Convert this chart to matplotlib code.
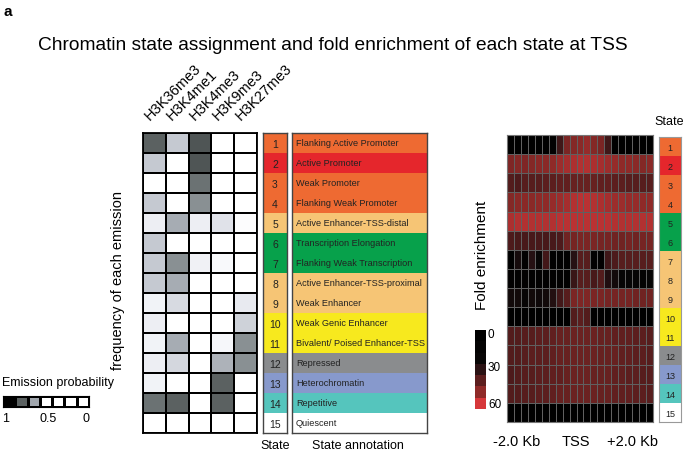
import matplotlib
matplotlib.use("Agg")
import matplotlib.pyplot as plt
import numpy as np
from matplotlib.colors import LinearSegmentedColormap, ListedColormap

plt.rcParams['font.family'] = ['Liberation Sans', 'DejaVu Sans']

# ---------------- data ----------------
marks = ["H3K36me3", "H3K4me1", "H3K4me3", "H3K9me3", "H3K27me3"]
state_ids = [str(i) for i in range(1, 16)]
state_names = ["Flanking Active Promoter", "Active Promoter", "Weak Promoter",
               "Flanking Weak Promoter", "Active Enhancer-TSS-distal",
               "Transcription Elongation", "Flanking Weak Transcription",
               "Active Enhancer-TSS-proximal", "Weak Enhancer", "Weak Genic Enhancer",
               "Bivalent/ Poised Enhancer-TSS", "Repressed", "Heterochromatin",
               "Repetitive", "Quiescent"]
state_colors = ["#ee6a32", "#e5262c", "#ee6a32", "#ee6a32", "#f6c575", "#07a14b",
                "#07a14b", "#f6c575", "#f6c575", "#f7e91e", "#f7e91e", "#8a8c8e",
                "#8799cc", "#55c5bd", "#ffffff"]
right_state_colors = ["#ee6a32", "#e5262c", "#ee6a32", "#ee6a32", "#07a14b", "#07a14b",
                      "#f6c575", "#f6c575", "#f6c575", "#f7e91e", "#f7e91e", "#8a8c8e",
                      "#8799cc", "#55c5bd", "#ffffff"]

emission = [
    [0.85, 0.50, 0.87, 0.00, 0.00],
    [0.50, 0.00, 0.87, 0.00, 0.00],
    [0.00, 0.00, 0.80, 0.00, 0.00],
    [0.50, 0.00, 0.70, 0.00, 0.00],
    [0.25, 0.60, 0.25, 0.35, 0.05],
    [0.50, 0.00, 0.00, 0.00, 0.00],
    [0.50, 0.70, 0.22, 0.12, 0.00],
    [0.50, 0.60, 0.00, 0.00, 0.00],
    [0.20, 0.40, 0.00, 0.00, 0.30],
    [0.25, 0.00, 0.00, 0.00, 0.45],
    [0.20, 0.60, 0.00, 0.15, 0.70],
    [0.25, 0.42, 0.00, 0.58, 0.70],
    [0.20, 0.00, 0.00, 0.85, 0.00],
    [0.80, 0.85, 0.00, 0.85, 0.00],
    [0.00, 0.00, 0.00, 0.00, 0.00],
]
emission_legend = [1.0, 0.85, 0.62, 0.0, 0.0, 0.0, 0.0]
emission_legend_labels = ["1", "0.5", "0"]

fold = [
    [0, 0, 0, 0, 0, 0, 8, 34, 46, 48, 49, 51, 48, 46, 34, 0, 0, 0, 0, 0, 0],
    [47, 48, 47, 48, 49, 49, 50, 52, 53, 54, 55, 55, 54, 53, 52, 51, 50, 50, 49, 48, 49],
    [38, 37, 39, 39, 39, 40, 40, 41, 41, 42, 42, 42, 42, 41, 41, 40, 40, 39, 39, 39, 39],
    [48, 49, 49, 49, 50, 50, 51, 52, 53, 55, 56, 56, 55, 54, 53, 52, 52, 51, 51, 50, 50],
    [54, 55, 55, 55, 55, 55, 55, 56, 56, 56, 56, 56, 56, 56, 56, 55, 55, 55, 55, 55, 55],
    [37, 36, 36, 36, 36, 36, 36, 37, 44, 45, 46, 46, 46, 45, 45, 44, 44, 45, 44, 45, 45],
    [0, 24, 5, 29, 20, 35, 5, 5, 5, 29, 39, 39, 5, 5, 34, 37, 39, 39, 39, 39, 39],
    [5, 5, 5, 5, 5, 5, 5, 5, 5, 33, 39, 39, 36, 38, 27, 23, 15, 15, 15, 10, 15],
    [23, 23, 18, 23, 22, 23, 28, 35, 39, 46, 47, 47, 46, 46, 45, 45, 45, 45, 44, 44, 44],
    [0, 0, 0, 0, 0, 0, 0, 0, 0, 38, 40, 38, 0, 0, 0, 0, 0, 0, 0, 0, 0],
    [38, 38, 39, 39, 40, 40, 41, 42, 42, 43, 43, 43, 43, 42, 42, 41, 41, 41, 40, 40, 39],
    [38, 38, 39, 40, 40, 40, 41, 42, 42, 43, 43, 43, 43, 42, 42, 42, 41, 41, 40, 40, 39],
    [37, 38, 39, 39, 40, 40, 41, 41, 42, 43, 43, 43, 42, 42, 42, 41, 41, 40, 40, 39, 39],
    [38, 38, 39, 39, 40, 40, 41, 42, 42, 43, 43, 43, 43, 42, 42, 41, 41, 41, 40, 40, 39],
    [0] * 21,
]
fold_cbar_values = [0, 10, 20, 30, 40, 50, 60]
fold_cbar_labels = ["0", "30", "60"]
fold_xtick_pos = [1.45, 9.9, 18.0]
fold_xtick_labels = ["-2.0 Kb", "TSS", "+2.0 Kb"]

# ---------------- figure ----------------
W, H = 685, 454
fig = plt.figure(figsize=(W / 100, H / 100), dpi=100)


def ax_px(x0, y0, x1, y1):
    return fig.add_axes([x0 / W, 1 - y1 / H, (x1 - x0) / W, (y1 - y0) / H])


def fx(x):
    return x / W


def fy(y):
    return 1 - y / H


gray_cmap = LinearSegmentedColormap.from_list(
    "emis", [(0.0, "#ffffff"), (0.15, "#f6f7fa"), (0.3, "#e8eaf0"), (0.5, "#c6cad2"),
             (0.62, "#a0a6ad"), (0.72, "#848b8d"), (0.85, "#5c6262"), (1.0, "#000000")])
fold_cmap = LinearSegmentedColormap.from_list(
    "fold", [(0.0, "#000000"), (20 / 60, "#080606"), (30 / 60, "#2a1214"),
             (40 / 60, "#5c1e1e"), (50 / 60, "#8e2a28"), (1.0, "#d6373a")])

fig.text(fx(4), fy(12), "a", fontsize=11, fontweight="bold", ha="left", va="center")
fig.text(fx(333), fy(45), "Chromatin state assignment and fold enrichment of each state at TSS",
         fontsize=13.8, ha="center", va="center")

# emission heatmap
ax = ax_px(143, 133, 257, 433)
em = np.array(emission)
ax.pcolormesh(em, cmap=gray_cmap, vmin=0, vmax=1, edgecolors="black", linewidth=1.3)
ax.set_xlim(0, em.shape[1])
ax.set_ylim(em.shape[0], 0)
ax.set_xticks([])
ax.set_yticks([])
for s in ax.spines.values():
    s.set_linewidth(1.3)
colw = (257 - 143) / len(marks)
for i, m in enumerate(marks):
    cx = 143 + colw * (i + 0.5)
    fig.text(fx(cx - 3), fy(123), m, fontsize=10.5, rotation=45, rotation_mode="anchor",
             ha="left", va="bottom")
fig.text(fx(118), fy(280), "frequency of each emission", fontsize=10.5, rotation=90,
         ha="center", va="center")

# state number column
sc = ListedColormap(state_colors)
idx = np.arange(15).reshape(-1, 1)
ax2 = ax_px(263, 133, 287, 433)
ax2.pcolormesh(idx, cmap=sc, vmin=-0.5, vmax=14.5)
ax2.set_xlim(0, 1)
ax2.set_ylim(15, 0)
ax2.set_xticks([])
ax2.set_yticks([])
for s in ax2.spines.values():
    s.set_color("#444444")
    s.set_linewidth(1.0)
for i, t in enumerate(state_ids):
    ax2.text(0.5, i + 0.6, t, fontsize=7.5, ha="center", va="center", color="#222222")

# annotation column
ax3 = ax_px(292, 133, 427, 433)
ax3.pcolormesh(idx, cmap=sc, vmin=-0.5, vmax=14.5)
ax3.set_xlim(0, 1)
ax3.set_ylim(15, 0)
ax3.set_xticks([])
ax3.set_yticks([])
for s in ax3.spines.values():
    s.set_color("#444444")
    s.set_linewidth(1.0)
for i, t in enumerate(state_names):
    ax3.text(0.03, i + 0.5, t, fontsize=6.6, ha="left", va="center", color="#222222")

fig.text(fx(275), fy(446), "State", fontsize=9, ha="center", va="center")
fig.text(fx(358), fy(446), "State annotation", fontsize=9, ha="center", va="center")

# emission legend
fig.text(fx(2), fy(383), "Emission probability", fontsize=9, ha="left", va="center")
axl = ax_px(3, 396, 89, 407)
axl.pcolormesh(np.array([emission_legend]), cmap=gray_cmap, vmin=0, vmax=1,
               edgecolors="black", linewidth=0.8)
axl.set_xlim(0, len(emission_legend))
axl.set_ylim(0, 1)
axl.set_xticks([])
axl.set_yticks([])
for s in axl.spines.values():
    s.set_linewidth(0.8)
for x, t in zip([6, 48, 86], emission_legend_labels):
    fig.text(fx(x), fy(419), t, fontsize=9, ha="center", va="center")

# fold enrichment heatmap
axh = ax_px(507, 135, 653, 422)
fd = np.array(fold, dtype=float)
axh.pcolormesh(fd, cmap=fold_cmap, vmin=0, vmax=60, edgecolors="#606060", linewidth=0.6)
axh.set_xlim(0, fd.shape[1])
axh.set_ylim(fd.shape[0], 0)
axh.set_yticks([])
axh.set_xticks(fold_xtick_pos)
axh.set_xticklabels(fold_xtick_labels, fontsize=10.5)
axh.tick_params(axis="x", length=0, pad=9)
for s in axh.spines.values():
    s.set_color("#777777")
    s.set_linewidth(0.8)

fig.text(fx(482), fy(255), "Fold enrichment", fontsize=11, rotation=90,
         ha="center", va="center")

# right state column
rsc = ListedColormap(right_state_colors)
axr = ax_px(659, 137, 681, 422)
axr.pcolormesh(idx, cmap=rsc, vmin=-0.5, vmax=14.5)
axr.set_xlim(0, 1)
axr.set_ylim(15, 0)
axr.set_xticks([])
axr.set_yticks([])
for s in axr.spines.values():
    s.set_color("#999999")
    s.set_linewidth(0.8)
for i, t in enumerate(state_ids):
    axr.text(0.5, i + 0.6, t, fontsize=6.5, ha="center", va="center", color="#222222")
fig.text(fx(669), fy(122), "State", fontsize=9, ha="center", va="center")

# fold colorbar
axc = ax_px(475, 330, 486, 409)
axc.pcolormesh(np.array(fold_cbar_values).reshape(-1, 1), cmap=fold_cmap, vmin=0, vmax=60)
axc.set_xlim(0, 1)
axc.set_ylim(len(fold_cbar_values), 0)
axc.set_xticks([])
axc.set_yticks([])
for s in axc.spines.values():
    s.set_visible(False)
for yy, t in zip([335, 368, 405], fold_cbar_labels):
    fig.text(fx(488), fy(yy), t, fontsize=8.5, ha="left", va="center")

fig.savefig("out.png", dpi=100)
